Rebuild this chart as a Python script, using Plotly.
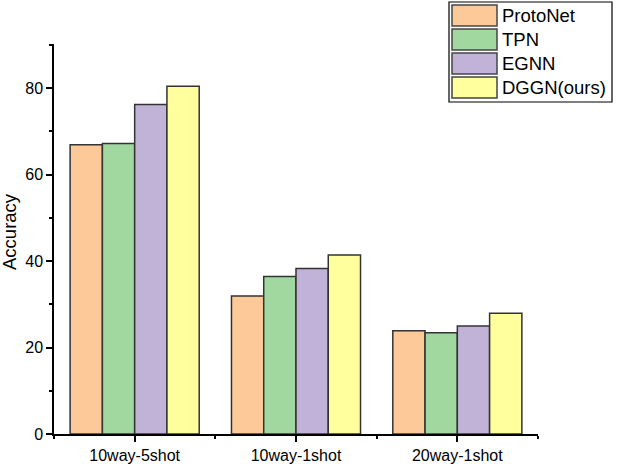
import plotly.graph_objects as go

categories = ["10way-5shot", "10way-1shot", "20way-1shot"]
series_names = ["ProtoNet", "TPN", "EGNN", "DGGN(ours)"]
protonet = [66.9, 31.9, 23.9]
tpn = [67.2, 36.4, 23.4]
egnn = [76.2, 38.3, 25.0]
dggn = [80.4, 41.4, 27.9]
y_ticks = [0, 20, 40, 60, 80]
y_title = "Accuracy"

values = [protonet, tpn, egnn, dggn]
colors = ["#FDC999", "#A0D8A0", "#C1B3D7", "#FFFF9E"]
FONT = "Liberation Sans, Arial, sans-serif"

W, H = 618, 464
L, R, T, B = 54, 80, 44, 30
PW, PH = W - L - R, H - T - B

def px(x):
    return (x - L) / PW

def py(y):
    return (H - B - y) / PH

xpos = list(range(len(categories)))

fig = go.Figure()
for name, vals, c in zip(series_names, values, colors):
    fig.add_trace(go.Bar(
        x=xpos, y=vals, name=name,
        marker=dict(color=c, line=dict(color="#333333", width=1.5)),
        showlegend=False,
    ))

# custom legend (box + swatches + labels)
shapes = [dict(type="rect", xref="paper", yref="paper",
               x0=px(449), x1=px(612), y0=py(102), y1=py(2),
               line=dict(color="black", width=1.2), fillcolor="white")]
annotations = []
row_tops = [5, 29, 53, 77]
for i, (name, c) in enumerate(zip(series_names, colors)):
    y0 = row_tops[i]
    shapes.append(dict(type="rect", xref="paper", yref="paper",
                       x0=px(452), x1=px(497), y0=py(y0 + 21), y1=py(y0),
                       line=dict(color="#444444", width=1.5), fillcolor=c))
    annotations.append(dict(xref="paper", yref="paper", x=px(500), y=py(y0 + 10.5),
                            text=name, showarrow=False, xanchor="left", yanchor="middle",
                            font=dict(size=18.5, color="black", family=FONT)))

annotations.append(dict(xref="paper", yref="paper", x=px(10), y=py(232),
                        text=y_title, textangle=-90, showarrow=False,
                        xanchor="center", yanchor="middle",
                        font=dict(size=18.5, color="black", family=FONT)))

fig.update_layout(
    width=W, height=H,
    margin=dict(l=L, r=R, t=T, b=B, pad=0, autoexpand=False),
    paper_bgcolor="white", plot_bgcolor="white",
    barmode="group", bargap=0.2, bargroupgap=0,
    font=dict(family=FONT, color="black", size=16),
    shapes=shapes, annotations=annotations,
    showlegend=False,
)
fig.update_xaxes(
    range=[-0.5, 2.5], tickvals=xpos, ticktext=categories, automargin=False,
    showline=True, linecolor="black", linewidth=1.5,
    ticks="outside", ticklen=6, tickwidth=1.5, tickcolor="black",
    minor=dict(tick0=-0.5, dtick=1, ticks="outside", ticklen=3, tickwidth=1.5, tickcolor="black"),
    showgrid=False, zeroline=False,
    tickfont=dict(size=16, family=FONT),
)
fig.update_yaxes(
    range=[0, 90.2], tickvals=y_ticks, automargin=False,
    showline=True, linecolor="black", linewidth=1.5,
    ticks="outside", ticklen=6, tickwidth=1.5, tickcolor="black",
    minor=dict(dtick=10, ticks="outside", ticklen=3, tickwidth=1.5, tickcolor="black"),
    showgrid=False, zeroline=False,
    tickfont=dict(size=16, family=FONT),
)

fig.write_html("out.html", config={"displayModeBar": False},
               post_script="document.body.style.margin='0px';")
